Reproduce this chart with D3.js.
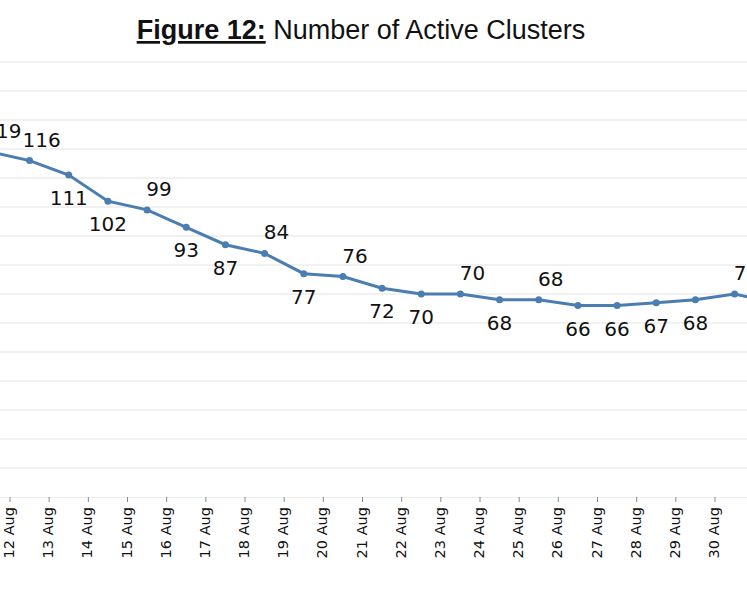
<!DOCTYPE html>
<html><head><meta charset="utf-8">
<script src="https://cdn.jsdelivr.net/npm/d3@7"></script>
<style>body{margin:0;background:#fff}</style></head>
<body><svg id="c" width="747" height="598"></svg>
<script>
const dates = ["11 Aug","12 Aug","13 Aug","14 Aug","15 Aug","16 Aug","17 Aug","18 Aug","19 Aug","20 Aug","21 Aug","22 Aug","23 Aug","24 Aug","25 Aug","26 Aug","27 Aug","28 Aug","29 Aug","30 Aug","31 Aug"];
const clusters = [119,116,111,102,99,93,87,84,77,76,72,70,70,68,68,66,66,67,68,70,67];
const labelAbove = [1,1,0,0,1,0,0,1,0,1,0,0,1,0,1,0,0,0,0,1,1];
const yTicks = d3.range(0,160,10);

const svg = d3.select("#c");
const step = 705/18;
const x = d3.scaleBand().domain(dates).range([10-step, 10-step+step*dates.length]).paddingInner(0).paddingOuter(0);
const y = d3.scaleLinear().domain([0,150]).range([497,62]);

svg.append("g").selectAll("line").data(yTicks.filter(d=>d>0)).join("line")
  .attr("x1",0).attr("x2",747).attr("y1",d=>y(d)).attr("y2",d=>y(d))
  .attr("stroke","#ececec").attr("stroke-width",1.5);

const ax = svg.append("g").attr("transform","translate(0,497)")
  .call(d3.axisBottom(x).tickSize(5).tickSizeOuter(0));
ax.select(".domain").attr("stroke","#ececec");
ax.selectAll(".tick").attr("transform",d=>`translate(${x(d)},0)`);
ax.selectAll(".tick line").attr("stroke","#888");
ax.selectAll(".tick text").attr("transform","rotate(-90)").attr("x",-10).attr("y",-1)
  .attr("dy","0.35em").attr("text-anchor","end")
  .style("font-family","DejaVu Sans").style("font-size","14.5px").attr("fill","#111");

const cx = d => x(d)+step/2;
svg.append("path").datum(clusters)
  .attr("d", d3.line().x((d,i)=>cx(dates[i])).y(d=>y(d)))
  .attr("fill","none").attr("stroke","#4a7db0").attr("stroke-width",3);
svg.append("g").selectAll("circle").data(clusters).join("circle")
  .attr("cx",(d,i)=>cx(dates[i])).attr("cy",d=>y(d)).attr("r",3.5).attr("fill","#4a7db0");
svg.append("g").selectAll("text").data(clusters).join("text")
  .attr("x",(d,i)=>cx(dates[i])+(labelAbove[i]?12:0)).attr("y",(d,i)=>y(d)+(labelAbove[i]?-14:30))
  .attr("text-anchor","middle").style("font-family","DejaVu Sans").style("font-size","20px")
  .attr("fill","#111").text(d=>d);

const t = svg.append("text").attr("x",361).attr("y",39).attr("text-anchor","middle")
  .style("font-family","Liberation Sans, Arial").style("font-size","27px").attr("fill","#111");
t.append("tspan").attr("font-weight","bold").attr("text-decoration","underline").text("Figure 12:");
t.append("tspan").text(" Number of Active Clusters");
</script></body></html>
